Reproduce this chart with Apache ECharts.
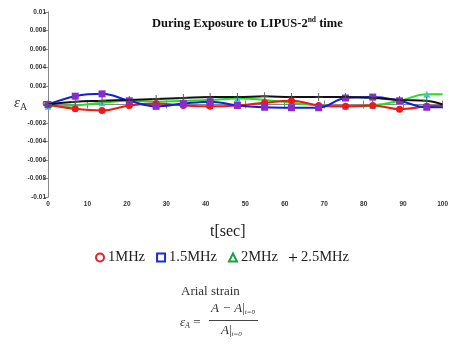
<!DOCTYPE html>
<html>
<head>
<meta charset="utf-8">
<script src="https://cdn.jsdelivr.net/npm/echarts@6/dist/echarts.min.js"></script>
<style>html,body{margin:0;padding:0;background:#fff}#c{width:451px;height:349px}</style>
</head>
<body>
<div id="c"></div>
<script>
// time points (sec)
var times = [0, 6.9, 13.7, 20.6, 27.4, 34.3, 41.1, 48, 54.9, 61.7, 68.6, 75.4, 82.3, 89.1, 96, 100];
var s1MHz  = [0, -0.00047, -0.00065, -0.0001, 0.0001, -0.0001, -0.0002, -0.0001, 0.0002, 0.0004, -0.0001, -0.0002, -0.0001, -0.0005, -0.0002, -0.0001];
var s15MHz = [0, 0.0009, 0.00115, 0.0004, -0.0002, 0.0001, 0.0003, -0.0001, -0.0003, -0.00035, -0.00035, 0.0007, 0.0008, 0.0004, -0.0003, -0.0003];
var s2MHz  = [-0.0002, -0.0001, 0.0002, 0.0004, 0.0003, 0.0004, 0.0005, 0.00065, 0.0005, 0.0002, -0.0001, -0.0002, -0.0001, 0.0004, 0.0011, 0.0011];
var s25MHz = [0, 0.0003, 0.0004, 0.0005, 0.0006, 0.0007, 0.0008, 0.0008, 0.0009, 0.0008, 0.0008, 0.0008, 0.0007, 0.0005, 0.0004, 0];
var seriesNames = ['1MHz', '1.5MHz', '2MHz', '2.5MHz'];
var xTicks = [0, 10, 20, 30, 40, 50, 60, 70, 80, 90, 100];

function pairs(vals) {
  return vals.map(function (v, i) {
    var p = { value: [times[i], v] };
    if (i === vals.length - 1) p.symbol = 'none';
    return p;
  });
}
var plusPath = 'path://M-0.7,-6H0.7V-0.7H6V0.7H0.7V6H-0.7V0.7H-6V-0.7H-0.7Z';
var serif = '"Liberation Serif", "Times New Roman", serif';
var sans = '"Liberation Sans", Arial, sans-serif';

var chart = echarts.init(document.getElementById('c'), null, { renderer: 'canvas' });
var axisLbl = { fontSize: 6.5, fontWeight: 'bold', color: '#333', fontFamily: sans };
chart.setOption({
  animation: false,
  backgroundColor: '#fff',
  grid: { left: 48, right: 3, top: 12, bottom: 152 },
  xAxis: [{
    type: 'value', min: 0, max: 100, interval: 10,
    axisLine: { lineStyle: { color: '#888', width: 1 } },
    axisTick: { inside: true, length: 4, lineStyle: { color: '#888' } },
    axisLabel: Object.assign({ margin: 4 }, axisLbl),
    splitLine: { show: false }
  }, {
    type: 'value', min: 0, max: 100, interval: 10, position: 'top',
    axisLine: { show: true, lineStyle: { color: '#888', width: 1 } },
    axisTick: { inside: true, length: 4, lineStyle: { color: '#888' } },
    axisLabel: { show: false }, splitLine: { show: false }
  }],
  yAxis: [{
    type: 'value', min: -0.01, max: 0.01, interval: 0.002,
    axisLine: { show: true, lineStyle: { color: '#888', width: 1 } },
    axisTick: { show: true, inside: false, length: 3, lineStyle: { color: '#888' } },
    axisLabel: Object.assign({ margin: 2, formatter: function (v) { return +v.toFixed(3) + ''; } }, axisLbl),
    splitLine: { show: false }
  }, {
    type: 'value', min: -0.01, max: 0.01, interval: 0.002, position: 'right',
    axisLine: { show: true, lineStyle: { color: '#888', width: 1 } },
    axisTick: { show: true, inside: true, length: 4, lineStyle: { color: '#888' } },
    axisLabel: { show: false }, splitLine: { show: false }
  }],
  legend: {
    bottom: 79, left: 90, itemGap: 11, itemWidth: 8, itemHeight: 8,
    textStyle: { fontFamily: serif, fontSize: 14.5, color: '#222', padding: [0, 0, 0, -1] },
    data: [
      { name: seriesNames[0], icon: 'circle', itemStyle: { color: '#fff', borderColor: '#e0202a', borderWidth: 2 } },
      { name: seriesNames[1], icon: 'rect', itemStyle: { color: '#fff', borderColor: '#1a2fd0', borderWidth: 2 } },
      { name: seriesNames[2], icon: 'triangle', itemStyle: { color: '#fff', borderColor: '#1fa040', borderWidth: 2 } },
      { name: seriesNames[3], icon: plusPath, itemStyle: { color: '#111' } }
    ]
  },
  series: [{
    name: seriesNames[0], type: 'line', smooth: 0.4, data: pairs(s1MHz),
    lineStyle: { color: '#f01818', width: 2 }, itemStyle: { color: '#f01818' },
    symbol: 'circle', symbolSize: 7, z: 3
  }, {
    name: seriesNames[1], type: 'line', smooth: 0.4, data: pairs(s15MHz),
    lineStyle: { color: '#1020e0', width: 2 }, itemStyle: { color: '#8a2ccc' },
    symbol: 'rect', symbolSize: 7, z: 4
  }, {
    name: seriesNames[2], type: 'line', smooth: 0.4, data: pairs(s2MHz),
    lineStyle: { color: '#22e022', width: 2 }, itemStyle: { color: '#40c8c8' },
    symbol: 'triangle', symbolSize: 7, z: 2
  }, {
    name: seriesNames[3], type: 'line', smooth: 0.4, data: pairs(s25MHz),
    lineStyle: { color: '#111', width: 2 }, itemStyle: { color: '#555' },
    symbol: plusPath, symbolSize: 8, z: 5
  }],
  graphic: [
    { type: 'text', left: 152, top: 16, style: {
      text: '{t|During Exposure to LIPUS-2}{s|nd}{t| time}',
      rich: { t: { fontFamily: serif, fontWeight: 'bold', fontSize: 12.5, fill: '#111', verticalAlign: 'bottom' },
              s: { fontFamily: serif, fontWeight: 'bold', fontSize: 7.5, fill: '#111', verticalAlign: 'top', padding: [0, 0, 6, 0] } } } },
    { type: 'text', left: 14, top: 96, style: {
      text: '{e|ε}{a|A}', rich: { e: { fontFamily: serif, fontStyle: 'italic', fontSize: 15, fill: '#333' },
                                 a: { fontFamily: serif, fontSize: 10, fill: '#333', padding: [8, 0, 0, 0] } } } },
    { type: 'text', left: 210, top: 224, style: { text: 't[sec]', fontFamily: serif, fontSize: 16, fill: '#222' } },
    { type: 'text', left: 181, top: 285, style: { text: 'Arial strain', fontFamily: serif, fontSize: 13, fill: '#333' } },
    { type: 'text', left: 180, top: 316, style: {
      text: '{e|ε}{a|A}{q| =}', rich: { e: { fontFamily: serif, fontStyle: 'italic', fontSize: 13, fill: '#333' },
        a: { fontFamily: serif, fontStyle: 'italic', fontSize: 8, fill: '#333', padding: [6, 0, 0, 0] },
        q: { fontFamily: serif, fontSize: 13, fill: '#333' } } } },
    { type: 'text', left: 211, top: 302, style: {
      text: '{v|A − A}{b||}{s|t=0}', rich: { v: { fontFamily: serif, fontStyle: 'italic', fontSize: 13, fill: '#333' },
        b: { fontFamily: serif, fontSize: 13, fill: '#333' },
        s: { fontFamily: serif, fontStyle: 'italic', fontSize: 7, fill: '#333', padding: [8, 0, 0, 0] } } } },
    { type: 'line', shape: { x1: 209, y1: 320.5, x2: 258, y2: 320.5 }, style: { stroke: '#444', lineWidth: 1 } },
    { type: 'text', left: 221, top: 324, style: {
      text: '{v|A}{b||}{s|t=0}', rich: { v: { fontFamily: serif, fontStyle: 'italic', fontSize: 13, fill: '#333' },
        b: { fontFamily: serif, fontSize: 13, fill: '#333' },
        s: { fontFamily: serif, fontStyle: 'italic', fontSize: 7, fill: '#333', padding: [8, 0, 0, 0] } } } }
  ]
});
</script>
</body>
</html>
